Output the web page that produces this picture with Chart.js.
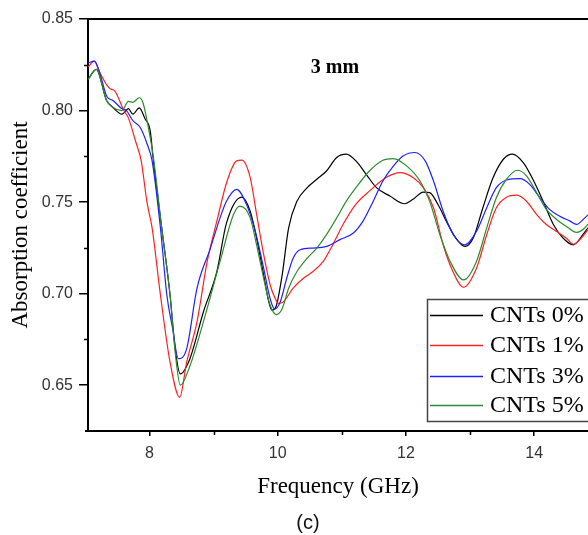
<!DOCTYPE html>
<html><head><meta charset="utf-8">
<script src="https://cdn.jsdelivr.net/npm/chart.js@4/dist/chart.umd.min.js"></script>
<style>html,body{margin:0;padding:0;background:#fff;}canvas{display:block}</style>
</head><body>
<canvas id="c" width="588" height="535"></canvas>
<script>
const seriesLabels = ["CNTs 0%", "CNTs 1%", "CNTs 3%", "CNTs 5%"];
const seriesColors = ["#000000", "#ff2020", "#2020ff", "#2e8b2e"];
const xTicks = [8, 10, 12, 14];
const xMinorTicks = [9, 11, 13];
const yTicks = [0.65, 0.70, 0.75, 0.80, 0.85];
const yMinorTicks = [0.675, 0.725, 0.775, 0.825];

const freq0 = [7.04,7.17,7.33,7.43,7.57,7.67,7.74,7.84,7.93,8.01,8.06,8.19,8.32,8.4,8.48,8.63,8.84,9.05,9.2,9.44,9.57,9.67,9.78,9.86,9.91,9.98,10.07,10.17,10.3,10.46,10.61,10.76,10.92,11.07,11.22,11.38,11.54,11.75,11.98,12.11,12.27,12.37,12.5,12.63,12.76,12.92,13.05,13.2,13.36,13.52,13.66,13.83,13.98,14.14,14.3,14.45,14.61,14.76,14.84];
const abs0 = [0.817,0.8225,0.8055,0.8017,0.798,0.801,0.798,0.8015,0.7955,0.789,0.7725,0.7359,0.6993,0.67,0.6562,0.6645,0.69,0.712,0.7385,0.7527,0.745,0.7304,0.7103,0.6956,0.691,0.6937,0.7104,0.7359,0.7505,0.7579,0.7625,0.767,0.7744,0.7762,0.7725,0.7652,0.7579,0.7533,0.7491,0.7515,0.7555,0.7552,0.7487,0.7396,0.7313,0.7258,0.7304,0.7469,0.7634,0.7734,0.7762,0.7716,0.7625,0.7505,0.7378,0.7304,0.7267,0.7322,0.736];

const freq1 = [7.04,7.14,7.22,7.38,7.45,7.6,7.67,7.78,7.87,7.96,8.04,8.17,8.32,8.47,8.58,8.74,8.9,9.05,9.21,9.36,9.44,9.57,9.67,9.78,9.88,9.96,10.01,10.09,10.24,10.4,10.55,10.71,10.86,11.02,11.22,11.43,11.69,11.91,12.11,12.27,12.43,12.58,12.71,12.9,13.1,13.26,13.41,13.57,13.73,13.88,14.04,14.19,14.35,14.5,14.61,14.76,14.84];
const abs1 = [0.8238,0.827,0.821,0.812,0.811,0.80,0.796,0.7835,0.7725,0.75,0.7359,0.6993,0.6626,0.6434,0.6626,0.6846,0.7176,0.7396,0.7615,0.7725,0.7729,0.7634,0.7434,0.7214,0.705,0.6974,0.6947,0.6956,0.703,0.7084,0.7121,0.7176,0.7268,0.7379,0.7489,0.756,0.7634,0.7661,0.7634,0.7579,0.7469,0.7267,0.7139,0.7035,0.7139,0.7322,0.7469,0.7527,0.7538,0.7505,0.7432,0.7378,0.734,0.7304,0.727,0.7313,0.735];

const freq3 = [7.04,7.14,7.22,7.33,7.43,7.57,7.64,7.74,7.85,7.96,8.04,8.17,8.27,8.36,8.45,8.58,8.74,8.95,9.1,9.2,9.36,9.51,9.65,9.78,9.88,9.95,10.04,10.14,10.24,10.35,10.55,10.76,10.97,11.18,11.33,11.49,11.64,11.8,11.96,12.14,12.3,12.43,12.58,12.74,12.92,13.1,13.26,13.41,13.57,13.78,13.93,14.09,14.24,14.4,14.56,14.66,14.79,14.84];
const abs3 = [0.826,0.827,0.821,0.808,0.8055,0.801,0.80,0.7945,0.791,0.782,0.7725,0.7359,0.6993,0.681,0.6645,0.67,0.7029,0.7249,0.7414,0.7505,0.757,0.7489,0.734,0.7139,0.6974,0.6916,0.6956,0.7084,0.7194,0.724,0.7249,0.7258,0.7295,0.7331,0.7396,0.7505,0.7615,0.7695,0.7753,0.7771,0.7725,0.7615,0.745,0.7322,0.7267,0.734,0.7469,0.7579,0.7621,0.7628,0.7597,0.7524,0.746,0.7423,0.7396,0.7378,0.7414,0.743];

const freq5 = [7.04,7.17,7.33,7.43,7.57,7.67,7.74,7.84,7.9,7.98,8.06,8.19,8.32,8.4,8.48,8.63,8.84,9.1,9.31,9.41,9.57,9.67,9.78,9.88,9.98,10.07,10.17,10.3,10.46,10.61,10.76,10.92,11.07,11.22,11.43,11.64,11.8,12.01,12.22,12.37,12.53,12.69,12.9,13.1,13.26,13.41,13.57,13.74,13.88,14.04,14.19,14.35,14.5,14.66,14.79,14.84];
const abs5 = [0.817,0.8225,0.8055,0.8017,0.80,0.805,0.8045,0.807,0.804,0.791,0.7745,0.7359,0.6993,0.668,0.65,0.6605,0.6846,0.7176,0.7432,0.7478,0.7414,0.7267,0.7084,0.6938,0.6886,0.6919,0.703,0.7121,0.7194,0.7249,0.7322,0.7414,0.7505,0.7579,0.767,0.7729,0.7738,0.7698,0.7615,0.7505,0.7322,0.7176,0.7075,0.7176,0.7359,0.7524,0.7625,0.7674,0.7643,0.7551,0.746,0.7405,0.7368,0.7335,0.7359,0.738];

const freqs = [freq0, freq1, freq3, freq5];
const values = [abs0, abs1, abs3, abs5];

const datasets = seriesLabels.map((lab, i) => ({
  label: lab,
  data: freqs[i].map((f, j) => ({x: f, y: values[i][j]})),
  borderColor: seriesColors[i],
  borderWidth: 1.2,
  pointRadius: 0,
  fill: false,
  cubicInterpolationMode: 'monotone',
  order: [3, 2, 1, 0][i]
}));

const decor = {
  id: 'decor',
  afterDraw(chart) {
    const ctx = chart.ctx;
    const a = chart.chartArea;
    const xs = chart.scales.x, ys = chart.scales.y;
    ctx.save();
    // top frame
    ctx.strokeStyle = '#000';
    ctx.lineWidth = 2;
    ctx.beginPath();
    ctx.moveTo(a.left - 1, a.top);
    ctx.lineTo(chart.width, a.top);
    ctx.stroke();
    // extend bottom axis slightly left of y axis
    ctx.beginPath();
    ctx.moveTo(a.left - 3, a.bottom);
    ctx.lineTo(a.left, a.bottom);
    ctx.stroke();
    // minor ticks
    ctx.lineWidth = 1.5;
    xMinorTicks.forEach(v => {
      const px = Math.round(xs.getPixelForValue(v)) + 0.5;
      ctx.beginPath(); ctx.moveTo(px, a.bottom); ctx.lineTo(px, a.bottom + 4); ctx.stroke();
    });
    yMinorTicks.forEach(v => {
      const py = Math.round(ys.getPixelForValue(v)) + 0.5;
      ctx.beginPath(); ctx.moveTo(a.left, py); ctx.lineTo(a.left - 4, py); ctx.stroke();
    });
    // inner title
    ctx.fillStyle = '#000';
    ctx.font = 'bold 20px "Liberation Serif"';
    ctx.textAlign = 'center';
    ctx.textBaseline = 'middle';
    ctx.fillText('3 mm', 335, 68);
    // caption
    ctx.font = '20px "Liberation Sans"';
    ctx.fillStyle = '#111';
    ctx.fillText('(c)', 308, 523);
    // legend
    const bx = 427.5, by = 299.5, bw = 200, bh = 122;
    ctx.fillStyle = '#fff';
    ctx.fillRect(bx, by, bw, bh);
    ctx.strokeStyle = '#444';
    ctx.lineWidth = 1.5;
    ctx.strokeRect(bx, by, bw, bh);
    const rows = [315, 345, 376, 405];
    ctx.font = '24px "Liberation Serif"';
    ctx.textAlign = 'left';
    ctx.textBaseline = 'middle';
    seriesLabels.forEach((lab, i) => {
      ctx.strokeStyle = seriesColors[i];
      ctx.lineWidth = 1.3;
      ctx.beginPath(); ctx.moveTo(430, rows[i] + 0.5); ctx.lineTo(483, rows[i] + 0.5); ctx.stroke();
      ctx.fillStyle = '#000';
      ctx.fillText(lab, 490, rows[i] + 1);
    });
    ctx.restore();
  }
};

new Chart(document.getElementById('c'), {
  type: 'line',
  data: { datasets },
  options: {
    responsive: false,
    animation: false,
    devicePixelRatio: 1,
    layout: { padding: { top: 19, right: 0, left: 0, bottom: 0 } },
    plugins: { legend: { display: false }, tooltip: { enabled: false } },
    scales: {
      x: {
        type: 'linear',
        min: 7.04, max: 14.84,
        afterBuildTicks: s => { s.ticks = xTicks.map(v => ({value: v})); },
        afterFit: s => { s.height = 104; },
        ticks: { color: '#333', font: { family: '"Liberation Sans"', size: 16 }, padding: 8, maxRotation: 0, callback: v => String(v) },
        grid: { drawOnChartArea: false, drawTicks: true, tickLength: 5, color: '#000', lineWidth: 1.5 },
        border: { display: true, color: '#000', width: 2 },
        title: { display: true, text: 'Frequency (GHz)', color: '#000', font: { family: '"Liberation Serif"', size: 23 }, padding: { top: 0, bottom: 34 } }
      },
      y: {
        type: 'linear',
        min: 0.625, max: 0.85,
        afterBuildTicks: s => { s.ticks = yTicks.map(v => ({value: v})); },
        afterFit: s => { s.width = 88; },
        ticks: { color: '#333', font: { family: '"Liberation Sans"', size: 16 }, padding: 6, callback: v => Number(v).toFixed(2) },
        grid: { drawOnChartArea: false, drawTicks: true, tickLength: 9, color: '#000', lineWidth: 1.5 },
        border: { display: true, color: '#000', width: 2 },
        title: { display: true, text: 'Absorption coefficient', color: '#000', font: { family: '"Liberation Serif"', size: 23 }, padding: { top: 7, bottom: 0 } }
      }
    }
  },
  plugins: [decor]
});
</script>
</body></html>
